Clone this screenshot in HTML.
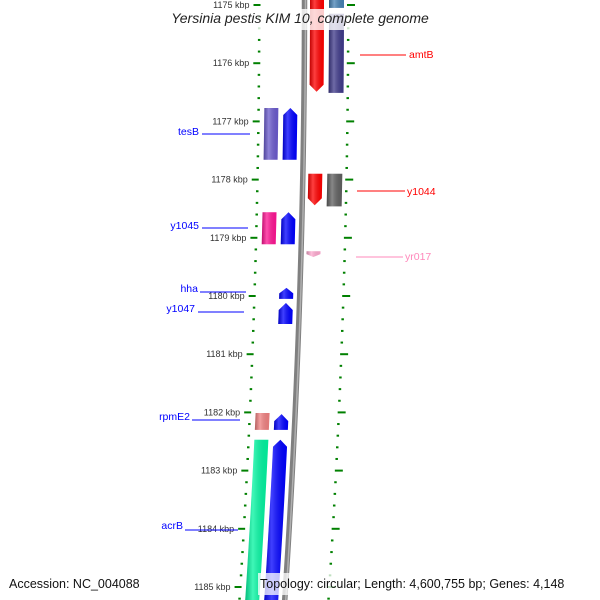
<!DOCTYPE html>
<html><head><meta charset="utf-8"><style>
html,body{margin:0;padding:0;background:#fff}
svg{display:block;font-family:"Liberation Sans","DejaVu Sans",sans-serif}
</style></head><body>
<svg id="map" width="600" height="600" viewBox="0 0 600 600" xmlns="http://www.w3.org/2000/svg">
<defs>
<linearGradient id="shade" x1="0" x2="1" y1="0" y2="0">
<stop offset="0" stop-color="#000" stop-opacity="0.25"/><stop offset="0.35" stop-color="#fff" stop-opacity="0.25"/><stop offset="1" stop-color="#000" stop-opacity="0.05"/>
</linearGradient>
</defs>
<g id="ticks"></g>
<g id="backbone"></g>
<g id="features"></g>
<g id="labels"></g>
<rect x="150" y="9" width="300" height="21" fill="#fff" fill-opacity="0.8"/>
<text x="300" y="23" text-anchor="middle" font-size="14" font-style="italic" fill="#222">Yersinia pestis KIM 10, complete genome</text>
<text x="9" y="588" font-size="12.5" fill="#111">Accession: NC_004088</text>
<rect x="258" y="573" width="334" height="22" fill="#fff" fill-opacity="0.75"/>
<text x="260" y="588" font-size="12.5" fill="#111">Topology: circular; Length: 4,600,755 bp; Genes: 4,148</text>
</svg>
<script>
// data (kbp)
const majorTicks = [1175,1176,1177,1178,1179,1180,1181,1182,1183,1184,1185];
const geneNames  = ["amtB","blue-top","amtB-cog","tesB","tesB-cog","y1044","y1044-cog","y1045","y1045-cog","yr017","hha","y1047","rpmE2","rpmE2-cog","acrB","acrB-cog"];
const geneStart  = [1174.8,1174.8,1175.15,1176.77,1176.77,1177.9,1177.9,1178.56,1178.56,1179.23,1179.86,1180.12,1182.03,1182.01,1182.47,1182.47];
const geneEnd    = [1176.49,1175.05,1176.51,1177.66,1177.66,1178.44,1178.46,1179.11,1179.11,1179.33,1180.05,1180.48,1182.3,1182.3,1185.4,1185.4];
const geneRing   = ["C","D","D","B","A","C","D","B","A","C","B","B","B","A","B","A"];
const geneColor  = ["#ff0000","#4682b4","#3f3a8a","#0000ff","#6a5acd","#ff0000","#606060","#0000ff","#ff1493","#ffaad0","#0000ff","#0000ff","#0000ff","#f08080","#0000ff","#00f5a0"];
const geneArrow  = ["down","none","none","up","none","down","none","up","none","down","up","up","up","none","up","none"];

const NS="http://www.w3.org/2000/svg";
const kToY = k => 5 + (k-1175)*58.2;
const curve = (x0,y) => x0 - (y*y)/18200;
const rings = {A:[265,279],B:[284,298],C:[310,324],D:[329,344]};
function mk(tag,attrs,parent){const e=document.createElementNS(NS,tag);for(const a in attrs)e.setAttribute(a,attrs[a]);parent.appendChild(e);return e;}

// ticks
const tg=document.getElementById('ticks');
for(let i=Math.round(1174.6*5);i<=Math.round(1185.4*5);i++){
  const k=i/5,y=kToY(k),major=(i%5===0);
  const xl=curve(259.5,y), xr=curve(348,y);
  const t1=mk('line',{x1:major?xl-6:xl-1.5,x2:xl+1,y1:y,y2:y,stroke:'#008000','stroke-width':2},tg);
  
  
  const t2=mk('line',{x1:xr-1,x2:major?xr+7:xr+1.5,y1:y,y2:y,stroke:'#008000','stroke-width':2},tg);
  
  
}
majorTicks.forEach(k=>{
  const y=kToY(k);
  const t=mk('text',{x:curve(259.5,y)-10,y:y+3,'text-anchor':'end','font-size':9,fill:'#333'},tg);
  t.textContent=k+' kbp';
  
  
});

// backbone
const bg=document.getElementById('backbone');
let d='';for(let y=-5;y<=605;y+=10){d+=(y<0?'M':'L')+curve(304.5,y).toFixed(2)+' '+y+' ';}
const b1=mk('path',{d:d,fill:'none',stroke:'#808080','stroke-width':5.5},bg);


const b2=mk('path',{d:d,fill:'none',stroke:'#b0b0b0','stroke-width':1.5,transform:'translate(1,0)'},bg);



// features
const fg=document.getElementById('features');
geneNames.forEach((n,i)=>{
  const [a,b]=rings[geneRing[i]];
  let y1=kToY(geneStart[i]),y2=kToY(geneEnd[i]);
  const ar=geneArrow[i], tip=Math.min(7,(y2-y1)*0.5);
  const left=[],right=[];
  const ys=[];for(let y=y1;y<y2;y+=8)ys.push(y);ys.push(y2);
  let pts=[];
  const top = ar==='up'? y1+tip : y1, bot = ar==='down'? y2-tip : y2;
  const mid=(a+b)/2;
  if(ar==='up')pts.push([curve(mid,y1),y1]);
  pts.push([curve(b,top),top]);
  ys.filter(y=>y>top&&y<bot).forEach(y=>pts.push([curve(b,y),y]));
  pts.push([curve(b,bot),bot]);
  if(ar==='down')pts.push([curve(mid,y2),y2]);
  pts.push([curve(a,bot),bot]);
  ys.filter(y=>y>top&&y<bot).reverse().forEach(y=>pts.push([curve(a,y),y]));
  pts.push([curve(a,top),top]);
  const pd='M'+pts.map(p=>p[0].toFixed(2)+' '+p[1].toFixed(2)).join(' L')+' Z';
  const p=mk('path',{d:pd,fill:geneColor[i]},fg);
  
  
  const s=mk('path',{d:pd,fill:'url(#shade)'},fg);
  
  
});
</script>
<svg width="0" height="0" style="position:absolute"></svg>
<script>
// labels
const labText=["amtB","y1044","yr017","tesB","y1045","hha","y1047","rpmE2","acrB"];
const labColor=["#ff0000","#ff0000","#ff88bb","#0000ff","#0000ff","#0000ff","#0000ff","#0000ff","#0000ff"];
const lg=document.getElementById('labels');
const L=[[409,58,'start',360,406,55],[407,195,'start',357,405,191],[405,260,'start',356,403,257],
 [199,135,'end',202,250,134],[199,229,'end',202,248,228],[198,292,'end',200,246,292],[195,312,'end',198,244,312],
 [190,420,'end',192,240,420],[183,529,'end',185,238,530]];
L.forEach((l,i)=>{
  const ln=document.createElementNS("http://www.w3.org/2000/svg",'line');
  ln.setAttribute('x1',l[3]);ln.setAttribute('x2',l[4]);ln.setAttribute('y1',l[5]);ln.setAttribute('y2',l[5]);
  ln.setAttribute('stroke',labColor[i]);ln.setAttribute('stroke-width',1);
  
  
  lg.appendChild(ln);
  const t=document.createElementNS("http://www.w3.org/2000/svg",'text');
  t.setAttribute('x',l[0]);t.setAttribute('y',l[1]);t.setAttribute('text-anchor',l[2]);
  t.setAttribute('font-size',10.5);t.setAttribute('fill',labColor[i]);
  t.textContent=labText[i];
  
  
  lg.appendChild(t);
});
</script>
</body></html>
